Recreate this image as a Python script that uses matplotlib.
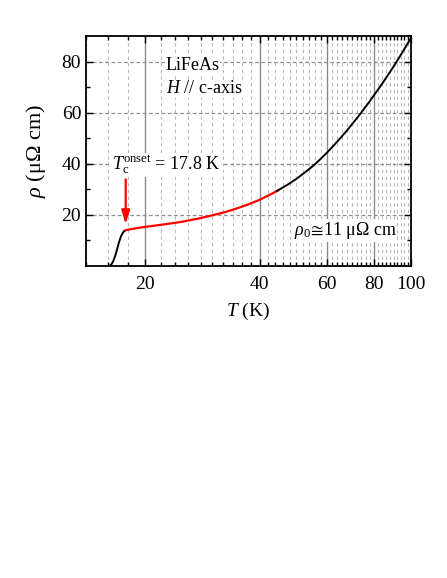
import numpy as np
import matplotlib
matplotlib.use("Agg")
import matplotlib.pyplot as plt
from matplotlib.ticker import FixedLocator, NullFormatter

plt.rcParams['font.family'] = ['Liberation Serif', 'DejaVu Serif']
plt.rcParams['mathtext.fontset'] = 'custom'
plt.rcParams['mathtext.rm'] = 'Liberation Serif'
plt.rcParams['mathtext.it'] = 'Liberation Serif:italic'

# superconducting transition (black)
T_sc = [16.1, 16.3, 16.5, 16.7, 16.9, 17.1, 17.3, 17.5, 17.65, 17.8]
rho_sc = [0.0, 0.5, 1.8, 3.9, 6.6, 9.4, 11.6, 13.0, 13.7, 14.0]

# normal state fit range (red)
T_red = [17.8, 18.5, 19, 20, 21, 22, 23, 24, 25, 27.5, 30, 32.5, 35, 37.5, 40, 42.5, 44.5]
rho_red = [14.0, 14.5, 14.8, 15.3, 15.7, 16.1, 16.5, 16.9, 17.3, 18.5, 19.8, 21.1, 22.6,
           24.2, 25.9, 27.8, 29.4]

# high temperature (black)
T_hi = [44.5, 47.5, 50, 52.5, 55, 57.5, 60, 62.5, 65, 67.5, 70, 72.5, 75, 77.5, 80,
        82.5, 85, 87.5, 90, 92.5, 95, 97.5, 100]
rho_hi = [29.4, 31.9, 34.1, 36.5, 38.9, 41.5, 44.2, 47.0, 49.8, 52.6, 55.5, 58.3, 61.2,
          64.0, 66.9, 69.7, 72.5, 75.3, 78.1, 80.9, 83.7, 86.5, 89.3]

x_major = [20, 40, 60, 80, 100]
x_minor = [t for t in range(14, 100, 2) if t not in x_major]
y_major = [20, 40, 60, 80]
y_minor = [10, 30, 50, 70]

fig = plt.figure(figsize=(4.47, 5.78), dpi=100)
ax = fig.add_axes([0.1924, 0.5398, 0.9195 - 0.1924, 0.9377 - 0.5398])

ax.set_xscale('log')
ax.set_xlim(14, 100)
ax.set_ylim(0, 90)

# grid lines
for t in x_minor:
    ax.axvline(t, color='#b8b8b8', lw=0.8, ls=(0, (3, 3)), zorder=0)
for t in x_major[:-1]:
    ax.axvline(t, color='#8a8a8a', lw=1.0, zorder=0)
for r in y_major:
    ax.axhline(r, color='#909090', lw=0.9, ls=(0, (3, 2)), zorder=0)

ax.plot(T_sc, rho_sc, color='black', lw=1.4, zorder=3)
ax.plot(T_red, rho_red, color='red', lw=1.6, zorder=3)
ax.plot(T_hi, rho_hi, color='black', lw=1.4, zorder=3)

ax.xaxis.set_major_locator(FixedLocator(x_major))
ax.xaxis.set_minor_locator(FixedLocator(x_minor))
ax.set_xticklabels([str(v) for v in x_major])
ax.xaxis.set_minor_formatter(NullFormatter())
ax.yaxis.set_major_locator(FixedLocator(y_major))
ax.yaxis.set_minor_locator(FixedLocator(y_minor))

ax.tick_params(which='both', direction='in', top=True, right=True, labelsize=14, width=1.0)
ax.tick_params(which='major', length=5)
ax.tick_params(which='minor', length=3)
ax.tick_params(axis='x', pad=7)
for s in ax.spines.values():
    s.set_linewidth(1.3)

ax.set_xlabel(r'$T$ (K)', fontsize=14, labelpad=6)
ax.set_ylabel(r'$\rho$ (μΩ cm)', fontsize=16, labelpad=10)

box = dict(facecolor='white', edgecolor='none', pad=0.5)
ax.text(0.245, 0.87, 'LiFeAs', transform=ax.transAxes, fontsize=13, va='center', bbox=box)
ax.text(0.245, 0.77, r'$H$ // c-axis', transform=ax.transAxes, fontsize=13, va='center', bbox=box)
ax.text(0.08, 0.44, r'$T_\mathrm{c}^\mathrm{onset}$ = 17.8 K', transform=ax.transAxes,
        fontsize=13, va='center', bbox=box)
ax.text(0.64, 0.155, r'$\rho_0\!\cong\!$11 μΩ cm', transform=ax.transAxes, fontsize=13,
        va='center', bbox=box)

ax.annotate('', xy=(17.8, 15.3), xytext=(17.8, 35),
            arrowprops=dict(arrowstyle='-|>,head_length=0.8,head_width=0.25', color='red', lw=1.6))

fig.savefig('out.png', dpi=100)
